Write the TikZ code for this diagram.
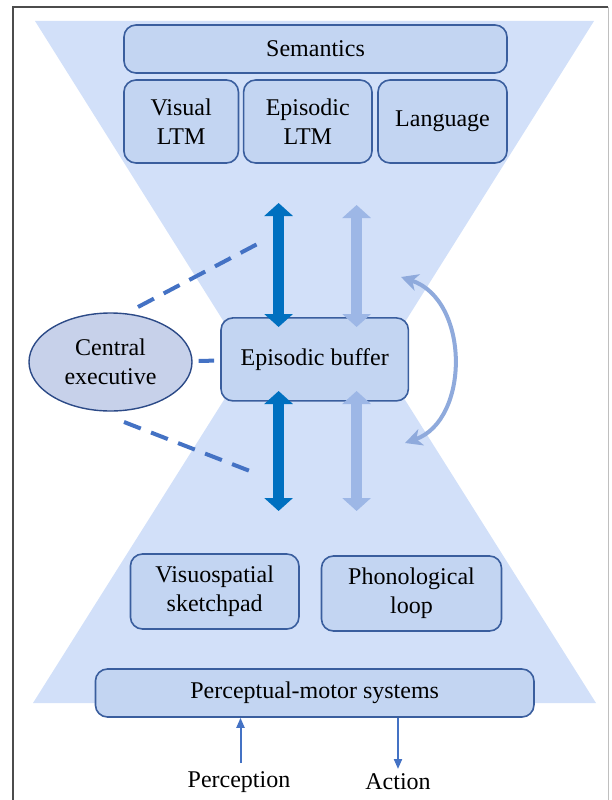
\documentclass[tikz,border=0pt]{standalone}
\usepackage{fontspec}
\setmainfont{Liberation Serif}
\usetikzlibrary{arrows.meta, shapes.geometric}

\definecolor{glass}{HTML}{D2E0F9}
\definecolor{boxfill}{HTML}{C3D5F2}
\definecolor{boxline}{HTML}{3A5E9E}
\definecolor{cefill}{HTML}{C7D1EA}
\definecolor{celine}{HTML}{2C4A87}
\definecolor{darkflow}{HTML}{0070C0}
\definecolor{lightflow}{HTML}{9DB7E6}
\definecolor{loopblue}{HTML}{8FAADC}
\definecolor{dashblue}{HTML}{4472C4}

\begin{document}
\begin{tikzpicture}[x=1pt, y=-1pt, align=center, font=\fontsize{24}{29}\selectfont,
	box/.style={draw=boxline, fill=boxfill, line width=1.6pt, rounded corners=12pt, inner sep=0pt},
	exec/.style={ellipse, draw=celine, fill=cefill, line width=1.4pt, inner sep=0pt},
	dkflow/.style={{Triangle[width=28pt,length=13pt]}-{Triangle[width=28pt,length=13pt]}, line width=11pt, draw=darkflow},
	ltflow/.style={{Triangle[width=28pt,length=13pt]}-{Triangle[width=28pt,length=13pt]}, line width=11pt, draw=lightflow},
	swap/.style={{Stealth[length=17pt,width=17pt,inset=5pt]}-{Stealth[length=17pt,width=17pt,inset=5pt]}, line width=4pt, draw=loopblue},
	ctrl/.style={draw=dashblue, line width=4pt, dash pattern=on 18pt off 11pt},
	io/.style={-{Triangle[width=8pt,length=10pt]}, line width=2pt, draw=dashblue}]

	\useasboundingbox (0,0) rectangle (611,800);

	% frame and hourglass
	\draw[black!70, line width=1.4pt] (13,805) -- (13,7) -- (608,7);
	\draw[black!25, line width=1pt] (608,7) -- (608,805);
	\fill[glass] (35,21) -- (594,21) -- (380.5,361) -- (596,703) -- (33,703) -- (248.5,361) -- cycle;

	% long-term memory
	\node[box, minimum width=383pt, minimum height=48pt]	(sem)	at	(315.5, 49)		{Semantics};
	\node[box, minimum width=114.5pt, minimum height=83pt]	(vltm)	at	(181.2, 121.5)	{Visual\\LTM};
	\node[box, minimum width=128.4pt, minimum height=83pt]	(eltm)	at	(307.8, 121.5)	{Episodic\\LTM};
	\node[box, minimum width=129pt, minimum height=83pt]	(lang)	at	(442.5, 121.5)	{Language};

	% working memory
	\node[box, minimum width=187.4pt, minimum height=83pt]	(buf)	at	(314.7, 359.4)	{Episodic buffer};
	\node[exec, minimum width=163pt, minimum height=98pt]	(ce)	at	(110.5, 362)	{Central\\executive};
	\node[box, minimum width=168.5pt, minimum height=75pt]	(vss)	at	(214.7, 591.5)	{Visuospatial\\sketchpad};
	\node[box, minimum width=180pt, minimum height=75pt]	(phl)	at	(411.5, 593.5)	{Phonological\\loop};
	\node[box, minimum width=438.5pt, minimum height=48pt]	(pms)	at	(314.7, 693)	{Perceptual-motor systems};

	\node[inner sep=0pt]	(perc)	at	(239, 782)	{Perception};
	\node[inner sep=0pt]	(act)	at	(398, 782)	{Action};

	% free ends
	\coordinate	(dk-a)	at	(278.6, 203);
	\coordinate	(dk-b)	at	(278.6, 327);
	\coordinate	(dk-c)	at	(278.6, 391);
	\coordinate	(dk-d)	at	(278.6, 511);
	\coordinate	(lt-a)	at	(356.6, 205);
	\coordinate	(lt-b)	at	(356.6, 327);
	\coordinate	(lt-c)	at	(356.6, 391);
	\coordinate	(lt-d)	at	(356.6, 511);
	\coordinate	(ce-up)		at	(138, 307);
	\coordinate	(ce-up-end)	at	(265, 240);
	\coordinate	(ce-dn)		at	(124, 422);
	\coordinate	(ce-dn-end)	at	(255, 473);
	\coordinate	(sw-a)	at	(401, 277);
	\coordinate	(sw-b)	at	(405, 443);
	\coordinate	(perc-in)	at	(240.5, 763);
	\coordinate	(act-out)	at	(398, 769);

	\path	(dk-a)	edge[dkflow]	(dk-b)
			(dk-c)	edge[dkflow]	(dk-d)
			(lt-a)	edge[ltflow]	(lt-b)
			(lt-c)	edge[ltflow]	(lt-d)
			(ce-up)	edge[ctrl]	(ce-up-end)
			(ce-dn)	edge[ctrl]	(ce-dn-end)
			(ce)	edge[ctrl, shorten <=6pt, shorten >=6pt]	(buf)
			(perc-in)	edge[io]	(perc-in |- pms.south)
			(pms.south -| act-out)	edge[io]	(act-out);

	\draw[swap] (sw-a) .. controls (470, 300) and (470, 420) .. (sw-b);

\end{tikzpicture}
\end{document}
